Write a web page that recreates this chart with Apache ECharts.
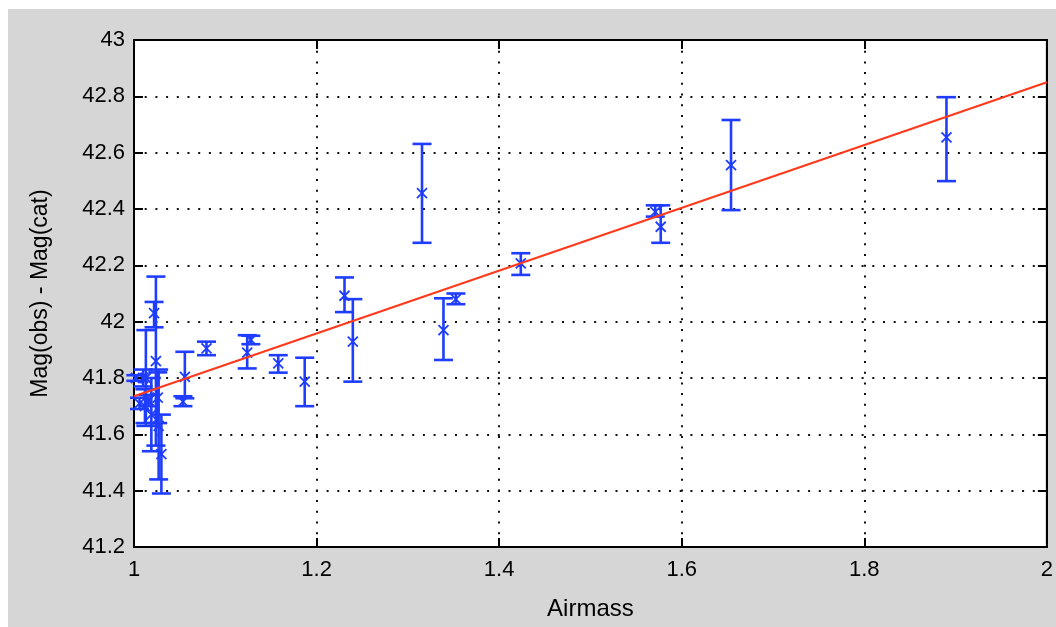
<!DOCTYPE html>
<html>
<head>
<meta charset="utf-8">
<script src="https://cdn.jsdelivr.net/npm/echarts@6/dist/echarts.min.js"></script>
<style>
  html, body { margin: 0; padding: 0; background: #ffffff; }
  #chart { position: absolute; left: 8px; top: 9px; width: 1048px; height: 618px; background: #d6d6d6; }
</style>
</head>
<body>
<div id="chart"></div>
<script>
// ---- data ----
const airmass = [1.002, 1.006, 1.010, 1.012, 1.013, 1.016, 1.019, 1.022, 1.024, 1.026, 1.027, 1.030,
                 1.0536, 1.0557, 1.0794, 1.124, 1.128, 1.158, 1.187,
                 1.2306, 1.2397, 1.3155, 1.339, 1.3526, 1.4237,
                 1.571, 1.577, 1.654, 1.890];
const magDiff = [41.80, 41.71, 41.80, 41.70, 41.80, 41.72, 41.67, 42.03, 41.86, 41.73, 41.63, 41.53,
                 41.716, 41.804, 41.905, 41.89, 41.935, 41.852, 41.787,
                 42.092, 41.929, 42.456, 41.970, 42.080, 42.207,
                 42.390, 42.337, 42.556, 42.654];
const errLow  = [41.79, 41.69, 41.77, 41.64, 41.63, 41.70, 41.54, 41.98, 41.56, 41.64, 41.44, 41.39,
                 41.700, 41.728, 41.881, 41.834, 41.920, 41.819, 41.700,
                 42.034, 41.787, 42.280, 41.864, 42.062, 42.166,
                 42.373, 42.280, 42.396, 42.499];
const errHigh = [41.81, 41.73, 41.83, 41.76, 41.97, 41.74, 41.80, 42.07, 42.16, 41.82, 41.83, 41.67,
                 41.735, 41.893, 41.929, 41.952, 41.950, 41.881, 41.872,
                 42.157, 42.080, 42.631, 42.083, 42.100, 42.243,
                 42.413, 42.413, 42.716, 42.797];
const fitX = [1, 2];
const fitY = [41.735, 42.85];
const xTicks = [1, 1.2, 1.4, 1.6, 1.8, 2];
const yTicks = [41.2, 41.4, 41.6, 41.8, 42, 42.2, 42.4, 42.6, 42.8, 43];

const BLUE = '#1f3dff';
const RED = '#ff3a1c';
const FONT = "'Liberation Sans Narrow', 'Liberation Sans', Arial, sans-serif";

const errData = airmass.map((x, i) => [x, magDiff[i], errLow[i], errHigh[i]]);
const fitData = fitX.map((x, i) => [x, fitY[i]]);

const chart = echarts.init(document.getElementById('chart'), null, { renderer: 'canvas' });

const gridLine = { show: true, lineStyle: { color: '#111', width: 2, type: [2, 8.7] } };
const tickStyle = { show: true, inside: true, length: 9, lineStyle: { color: '#000', width: 2 } };
const fmt = v => String(Math.round(v * 10) / 10);

chart.setOption({
  animation: false,
  grid: { left: 126, right: 7, top: 31, bottom: 80, show: true, backgroundColor: '#ffffff',
          borderColor: '#000', borderWidth: 2 },
  xAxis: [
    { type: 'value', min: 1, max: 2, interval: 0.2, position: 'bottom',
      axisLine: { show: true, lineStyle: { color: '#000', width: 2 } },
      axisTick: tickStyle, splitLine: gridLine,
      axisLabel: { color: '#000', fontFamily: FONT, fontSize: 22, margin: 12, formatter: fmt },
      name: 'Airmass', nameLocation: 'middle', nameGap: 50,
      nameTextStyle: { color: '#000', fontFamily: FONT, fontSize: 24 } },
    { type: 'value', min: 1, max: 2, interval: 0.2, position: 'top',
      axisLine: { show: true, lineStyle: { color: '#000', width: 2 } },
      axisTick: tickStyle, splitLine: { show: false }, axisLabel: { show: false } }
  ],
  yAxis: [
    { type: 'value', min: 41.2, max: 43, interval: 0.2, position: 'left',
      axisLine: { show: true, lineStyle: { color: '#000', width: 2 } },
      axisTick: tickStyle, splitLine: gridLine,
      axisLabel: { color: '#000', fontFamily: FONT, fontSize: 22, margin: 9, formatter: fmt },
      name: 'Mag(obs) - Mag(cat)', nameLocation: 'middle', nameGap: 82, nameRotate: 90,
      nameTextStyle: { color: '#000', fontFamily: FONT, fontSize: 23 } },
    { type: 'value', min: 41.2, max: 43, interval: 0.2, position: 'right',
      axisLine: { show: true, lineStyle: { color: '#000', width: 2 } },
      axisTick: tickStyle, splitLine: { show: false }, axisLabel: { show: false } }
  ],
  series: [
    {
      type: 'custom',
      xAxisIndex: 0, yAxisIndex: 0,
      data: errData,
      encode: { x: 0, y: [1, 2, 3] },
      renderItem: function (params, api) {
        const x = api.value(0), y = api.value(1), lo = api.value(2), hi = api.value(3);
        const pT = api.coord([x, hi]);
        const pB = api.coord([x, lo]);
        const p = api.coord([x, y]);
        const cw = 9.5, m = 5;
        const st = { stroke: BLUE, lineWidth: 2.6 };
        const ms = { stroke: BLUE, lineWidth: 1.8 };
        return {
          type: 'group',
          children: [
            { type: 'line', shape: { x1: pT[0], y1: pT[1], x2: pB[0], y2: pB[1] }, style: st },
            { type: 'line', shape: { x1: pT[0] - cw, y1: pT[1], x2: pT[0] + cw, y2: pT[1] }, style: st },
            { type: 'line', shape: { x1: pB[0] - cw, y1: pB[1], x2: pB[0] + cw, y2: pB[1] }, style: st },
            { type: 'line', shape: { x1: p[0] - m, y1: p[1] - m, x2: p[0] + m, y2: p[1] + m }, style: ms },
            { type: 'line', shape: { x1: p[0] - m, y1: p[1] + m, x2: p[0] + m, y2: p[1] - m }, style: ms }
          ]
        };
      },
      z: 3
    },
    {
      type: 'line',
      xAxisIndex: 0, yAxisIndex: 0,
      data: fitData,
      showSymbol: false,
      lineStyle: { color: RED, width: 2.2 },
      z: 4
    }
  ]
});
</script>
</body>
</html>
